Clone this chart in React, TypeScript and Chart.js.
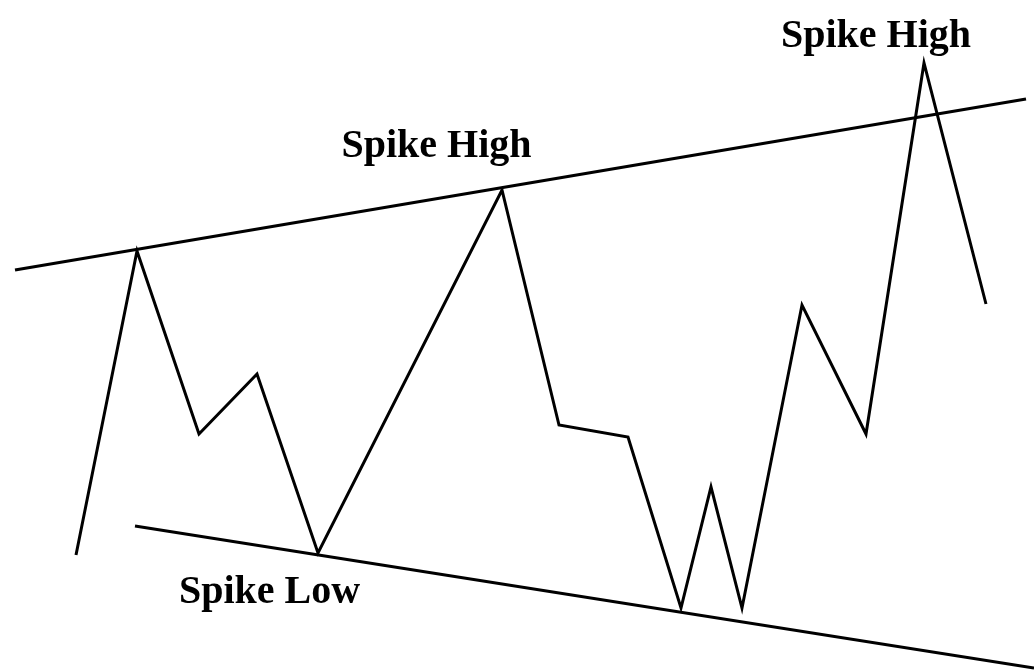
import React, { useEffect, useRef } from "react";
import { Chart, registerables } from "chart.js";

Chart.register(...registerables);

// Price path (x = time units, y = price units, origin bottom-left)
const pathX = [76, 137, 199, 257, 318, 502, 559, 628, 681, 711, 742, 802, 866, 924, 986];
const pathY = [115, 419, 236, 296, 117, 480, 245, 233, 62, 183, 62, 365, 236, 607, 366];

// Trend lines
const upperX = [15, 1026];
const upperY = [400, 571];
const lowerX = [135, 1034];
const lowerY = [144, 2];

// Annotations
const labelText = ["Spike High", "Spike High", "Spike Low"];
const labelX = [436.5, 876, 269.5];
const labelY = [513, 623, 67];

const X_MIN = 0;
const X_MAX = 1034;
const Y_MIN = 0;
const Y_MAX = 670;

const toPts = (xs: number[], ys: number[]) => xs.map((x, i) => ({ x, y: ys[i] }));

const labelPlugin = {
  id: "spikeLabels",
  afterDatasetsDraw(chart: any) {
    const { ctx, scales } = chart;
    ctx.save();
    ctx.fillStyle = "#000";
    ctx.font = "bold 40px 'Liberation Serif', 'Times New Roman', serif";
    ctx.textAlign = "center";
    ctx.textBaseline = "alphabetic";
    labelText.forEach((t, i) => {
      ctx.fillText(t, scales.x.getPixelForValue(labelX[i]), scales.y.getPixelForValue(labelY[i]));
    });
    ctx.restore();
  },
};

export default function App() {
  const ref = useRef<HTMLCanvasElement | null>(null);
  useEffect(() => {
    document.body.style.margin = "0";
    document.body.style.overflow = "hidden";
    document.body.style.background = "#fff";
    if (!ref.current) return;
    const common = {
      borderColor: "#000",
      borderWidth: 3,
      pointRadius: 0,
      tension: 0,
      fill: false,
      borderCapStyle: "butt" as const,
      borderJoinStyle: "miter" as const,
    };
    const chart = new Chart(ref.current, {
      type: "line",
      data: {
        datasets: [
          { ...common, label: "Price", data: toPts(pathX, pathY) },
          { ...common, label: "Upper", data: toPts(upperX, upperY) },
          { ...common, label: "Lower", data: toPts(lowerX, lowerY) },
        ],
      },
      options: {
        animation: false,
        responsive: false,
        maintainAspectRatio: false,
        layout: { padding: 0 },
        plugins: { legend: { display: false }, tooltip: { enabled: false } },
        scales: {
          x: { type: "linear", min: X_MIN, max: X_MAX, display: false },
          y: { type: "linear", min: Y_MIN, max: Y_MAX, display: false },
        },
      },
      plugins: [labelPlugin],
    });
    return () => chart.destroy();
  }, []);
  return (
    <div style={{ width: 1034, height: 670, background: "#fff" }}>
      <canvas ref={ref} width={1034} height={670} />
    </div>
  );
}
